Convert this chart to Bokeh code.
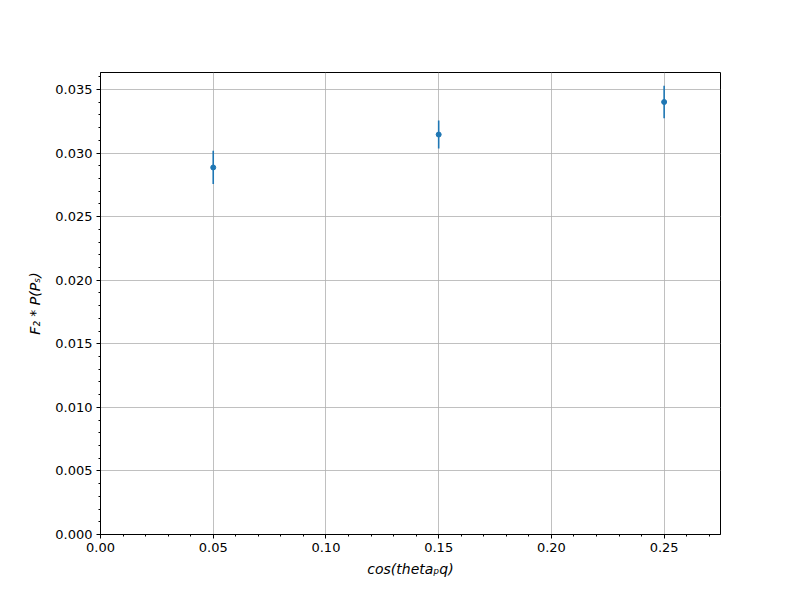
from bokeh.plotting import figure
from bokeh.models import FixedTicker, Range1d, ColumnDataSource
from bokeh.embed import file_html
from bokeh.resources import INLINE
import numpy as np

x_vals = [0.05, 0.15, 0.25]
y_vals = [0.02887, 0.03146, 0.03402]
y_errs = [0.00131, 0.00110, 0.00128]

x_ticks = [0.0, 0.05, 0.10, 0.15, 0.20, 0.25]
y_ticks = [0.0, 0.005, 0.010, 0.015, 0.020, 0.025, 0.030, 0.035]
x_minor = [round(i * 0.01, 3) for i in range(0, 28)]
y_minor = [round(i * 0.001, 4) for i in range(0, 37)]

src = ColumnDataSource(dict(
    x=x_vals, y=y_vals,
    lo=list(np.array(y_vals) - np.array(y_errs)),
    hi=list(np.array(y_vals) + np.array(y_errs)),
))

p = figure(width=784, height=584, output_backend="svg", toolbar_location=None,
           x_range=Range1d(0, 0.275), y_range=Range1d(0, 0.03634),
           min_border_left=100, min_border_right=64, min_border_top=72, min_border_bottom=50)

p.outline_line_color = "black"
p.outline_line_width = 1
p.background_fill_color = "white"
p.border_fill_color = "white"

p.xaxis.ticker = FixedTicker(ticks=x_ticks, minor_ticks=x_minor)
p.yaxis.ticker = FixedTicker(ticks=y_ticks, minor_ticks=y_minor)
p.xaxis.major_label_overrides = {t: f"{t:.2f}" for t in x_ticks}
p.yaxis.major_label_overrides = {t: f"{t:.3f}" for t in y_ticks}

for ax in (p.xaxis, p.yaxis):
    ax.axis_line_color = "black"
    ax.major_tick_in = 0
    ax.major_tick_out = 4
    ax.minor_tick_in = 0
    ax.minor_tick_out = 2
    ax.major_tick_line_color = "black"
    ax.minor_tick_line_color = "black"
    ax.major_label_text_font = "DejaVu Sans"
    ax.major_label_text_font_size = "13px"
    ax.major_label_text_color = "black"
    ax.axis_label_text_font = "DejaVu Sans"
    ax.axis_label_text_font_size = "14px"
    ax.axis_label_text_font_style = "italic"
    ax.axis_label_text_color = "black"

p.xaxis.axis_label = "cos(thetaₚq)"
p.yaxis.axis_label = "F₂ * P(Pₛ)"
p.xaxis.axis_label_standoff = 6
p.yaxis.axis_label_standoff = 9
p.xaxis.major_label_standoff = 4
p.yaxis.major_label_standoff = 4

p.grid.grid_line_color = "#b0b0b0"
p.grid.grid_line_width = 0.8

p.segment(x0="x", y0="lo", x1="x", y1="hi", source=src, line_color="#1f77b4", line_width=1.6)
p.scatter(x="x", y="y", source=src, size=5, fill_color="#1f77b4", line_color="#1f77b4")

open("out.html", "w").write(file_html(p, INLINE))
